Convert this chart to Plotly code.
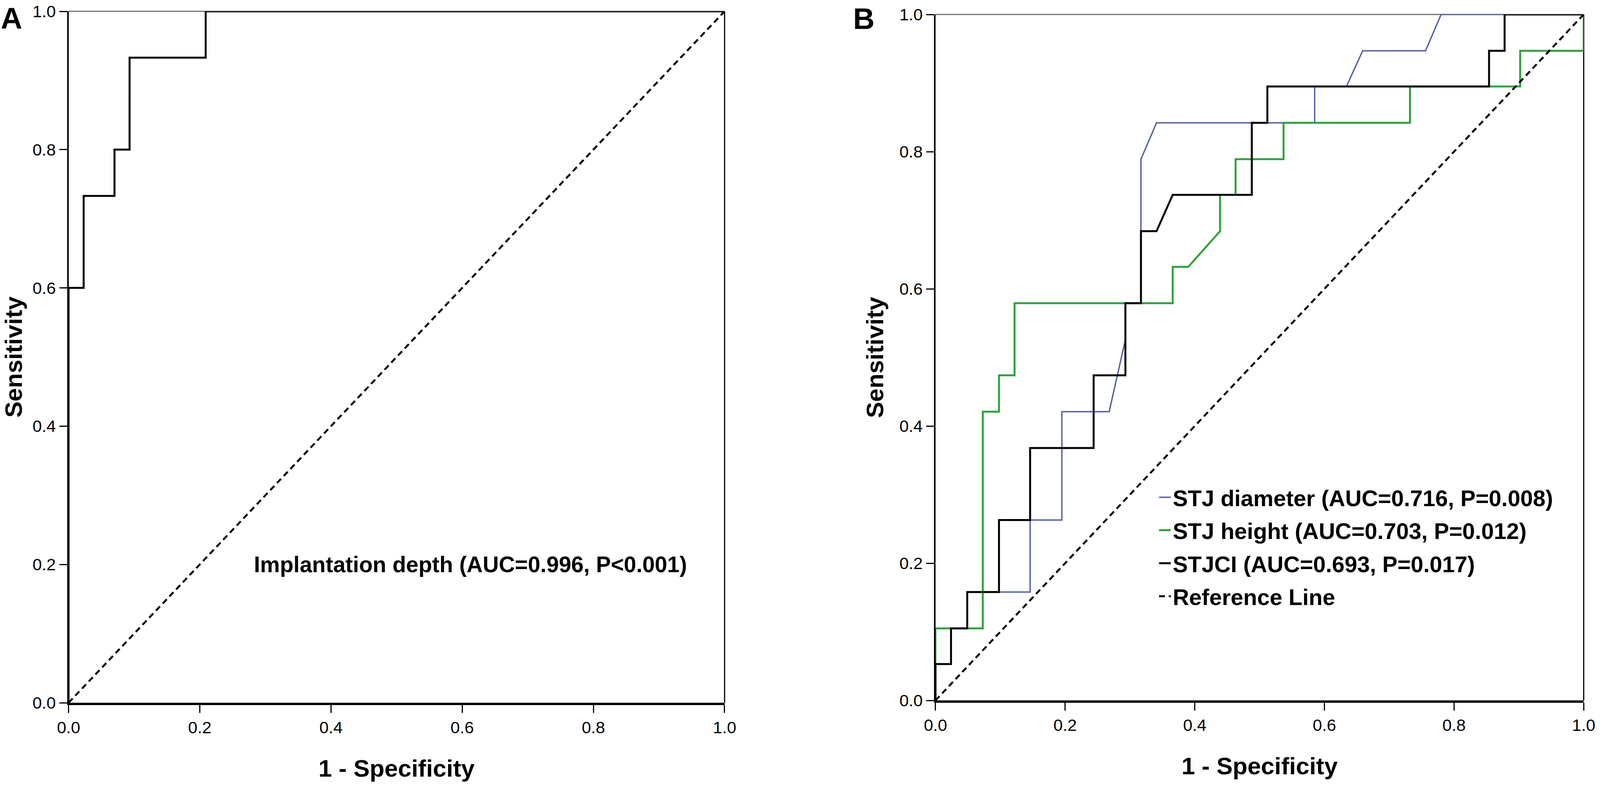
import plotly.graph_objects as go

# panel A - implantation depth
a_fpr = [0.0, 0.0, 0.023, 0.023, 0.070, 0.070, 0.093, 0.093, 0.209, 0.209, 1.0]
a_tpr = [0.0, 0.600, 0.600, 0.733, 0.733, 0.800, 0.800, 0.933, 0.933, 1.0, 1.0]

# panel B - STJ diameter / STJ height / STJCI
diam_fpr = [0.0, 0.0, 0.024, 0.024, 0.049, 0.049, 0.146, 0.146, 0.195, 0.195, 0.268, 0.293,
            0.293, 0.317, 0.317, 0.341, 0.585, 0.585, 0.634, 0.659, 0.756, 0.780, 1.0]
diam_tpr = [0.0, 0.053, 0.053, 0.105, 0.105, 0.158, 0.158, 0.263, 0.263, 0.421, 0.421, 0.526,
            0.579, 0.579, 0.789, 0.842, 0.842, 0.895, 0.895, 0.947, 0.947, 1.0, 1.0]

height_fpr = [0.0, 0.0, 0.073, 0.073, 0.098, 0.098, 0.122, 0.122, 0.366, 0.366, 0.390, 0.439,
              0.439, 0.463, 0.463, 0.537, 0.537, 0.732, 0.732, 0.902, 0.902, 1.0, 1.0]
height_tpr = [0.0, 0.105, 0.105, 0.421, 0.421, 0.474, 0.474, 0.579, 0.579, 0.632, 0.632, 0.684,
              0.737, 0.737, 0.789, 0.789, 0.842, 0.842, 0.895, 0.895, 0.947, 0.947, 1.0]

stjci_fpr = [0.0, 0.0, 0.024, 0.024, 0.049, 0.049, 0.098, 0.098, 0.146, 0.146, 0.244, 0.244, 0.293,
             0.293, 0.317, 0.317, 0.341, 0.366, 0.488, 0.488, 0.512, 0.512, 0.854, 0.854, 0.878, 0.878, 1.0]
stjci_tpr = [0.0, 0.053, 0.053, 0.105, 0.105, 0.158, 0.158, 0.263, 0.263, 0.368, 0.368, 0.474, 0.474,
             0.579, 0.579, 0.684, 0.684, 0.737, 0.737, 0.842, 0.842, 0.895, 0.895, 0.947, 0.947, 1.0, 1.0]

ref_line = [0.0, 1.0]

names_b = ["STJ diameter (AUC=0.716, P=0.008)",
           "STJ height (AUC=0.703, P=0.012)",
           "STJCI (AUC=0.693, P=0.017)",
           "Reference Line"]
label_a = "Implantation depth (AUC=0.996, P&lt;0.001)"
tick_vals = [0.0, 0.2, 0.4, 0.6, 0.8, 1.0]

W, H = 4317, 2011   # reference size, used for placing things as fractions
FONT = "Arial, Liberation Sans, sans-serif"
BLUE = "rgb(84,94,168)"
GREEN = "rgb(46,162,60)"
DASH = "15px,10px"

fig = go.Figure()

# panel A
fig.add_trace(go.Scatter(x=a_fpr, y=a_tpr, mode="lines", showlegend=False,
                         line=dict(color="black", width=5), xaxis="x", yaxis="y"))
fig.add_trace(go.Scatter(x=ref_line, y=ref_line, mode="lines", showlegend=False,
                         line=dict(color="black", width=5, dash=DASH), xaxis="x", yaxis="y"))

# panel B
fig.add_trace(go.Scatter(x=diam_fpr, y=diam_tpr, mode="lines", name=names_b[0],
                         line=dict(color=BLUE, width=3.5), xaxis="x2", yaxis="y2", legendgroup="a"))
fig.add_trace(go.Scatter(x=height_fpr, y=height_tpr, mode="lines", name=names_b[1],
                         line=dict(color=GREEN, width=5), xaxis="x2", yaxis="y2", legendgroup="b"))
fig.add_trace(go.Scatter(x=stjci_fpr, y=stjci_tpr, mode="lines", name=names_b[2],
                         line=dict(color="black", width=5), xaxis="x2", yaxis="y2", legendgroup="c"))
fig.add_trace(go.Scatter(x=ref_line, y=ref_line, mode="lines", name=names_b[3],
                         line=dict(color="black", width=5, dash=DASH), xaxis="x2", yaxis="y2",
                         legendgroup="d"))


def xax(domain, anchor):
    return dict(domain=domain, anchor=anchor, range=[0, 1], tickvals=tick_vals, tickformat=".1f",
                ticks="outside", ticklen=20, tickwidth=3, tickcolor="black",
                showline=True, linewidth=6, linecolor="black", showgrid=False, zeroline=False,
                automargin=False,
                tickfont=dict(family=FONT, size=43, color="black"),
                title=dict(text="1 - Specificity", standoff=62,
                           font=dict(family=FONT, size=62, color="black", weight="bold")))


def yax(domain, anchor):
    return dict(domain=domain, anchor=anchor, range=[0, 1], tickvals=tick_vals, tickformat=".1f",
                ticks="outside", ticklen=20, tickwidth=3, tickcolor="black",
                showline=True, linewidth=4, linecolor="black", showgrid=False, zeroline=False,
                automargin=False,
                tickfont=dict(family=FONT, size=43, color="black"),
                title=dict(text="Sensitivity", standoff=22,
                           font=dict(family=FONT, size=62, color="black", weight="bold")))


fig.update_layout(
    autosize=True,
    margin=dict(l=0, r=0, t=0, b=0, autoexpand=False),
    paper_bgcolor="white", plot_bgcolor="white",
    font=dict(family=FONT, color="black"),
    xaxis=xax([185 / W, 1955 / W], "y"),
    yaxis=yax([1 - 1798 / H, 1 - 29 / H], "x"),
    xaxis2=xax([2524 / W, 4273 / W], "y2"),
    yaxis2=yax([1 - 1792 / H, 1 - 37 / H], "x2"),
    legend=dict(x=3122 / W, y=1 - 1228 / H, xanchor="left", yanchor="top",
                bgcolor="rgba(0,0,0,0)", borderwidth=0, tracegroupgap=6,
                font=dict(family=FONT, size=58, color="black", weight="bold")),
    showlegend=True,
)

# frame: top (grey) and right (black) borders of both panels
for xr, yr in [("x domain", "y domain"), ("x2 domain", "y2 domain")]:
    fig.add_shape(type="line", xref=xr, yref=yr, x0=0, x1=1, y0=1, y1=1,
                  line=dict(color="rgb(110,110,110)", width=3), layer="below")
    fig.add_shape(type="line", xref=xr, yref=yr, x0=1, x1=1, y0=0, y1=1,
                  line=dict(color="black", width=3), layer="below")

fig.add_annotation(text=label_a, xref="paper", yref="paper", x=1856 / W, y=1 - 1444 / H,
                   xanchor="right", yanchor="middle", showarrow=False,
                   font=dict(family=FONT, size=57, color="black", weight="bold"))
fig.add_annotation(text="A", xref="paper", yref="paper", x=0, y=1 - 2 / H,
                   xanchor="left", yanchor="top", showarrow=False,
                   font=dict(family=FONT, size=76, color="black", weight="bold"))
fig.add_annotation(text="B", xref="paper", yref="paper", x=2300 / W, y=1 - 3 / H,
                   xanchor="left", yanchor="top", showarrow=False,
                   font=dict(family=FONT, size=76, color="black", weight="bold"))

# fill the browser window exactly, no page margin
post = ("document.documentElement.style.overflow='hidden';"
        "document.body.style.margin='0';document.body.style.overflow='hidden';"
        "var gd=document.getElementById('{plot_id}');Plotly.Plots.resize(gd);")
fig.write_html("out.html", default_width="100vw", default_height="100vh",
               config={"responsive": True, "displayModeBar": False}, post_script=post)
